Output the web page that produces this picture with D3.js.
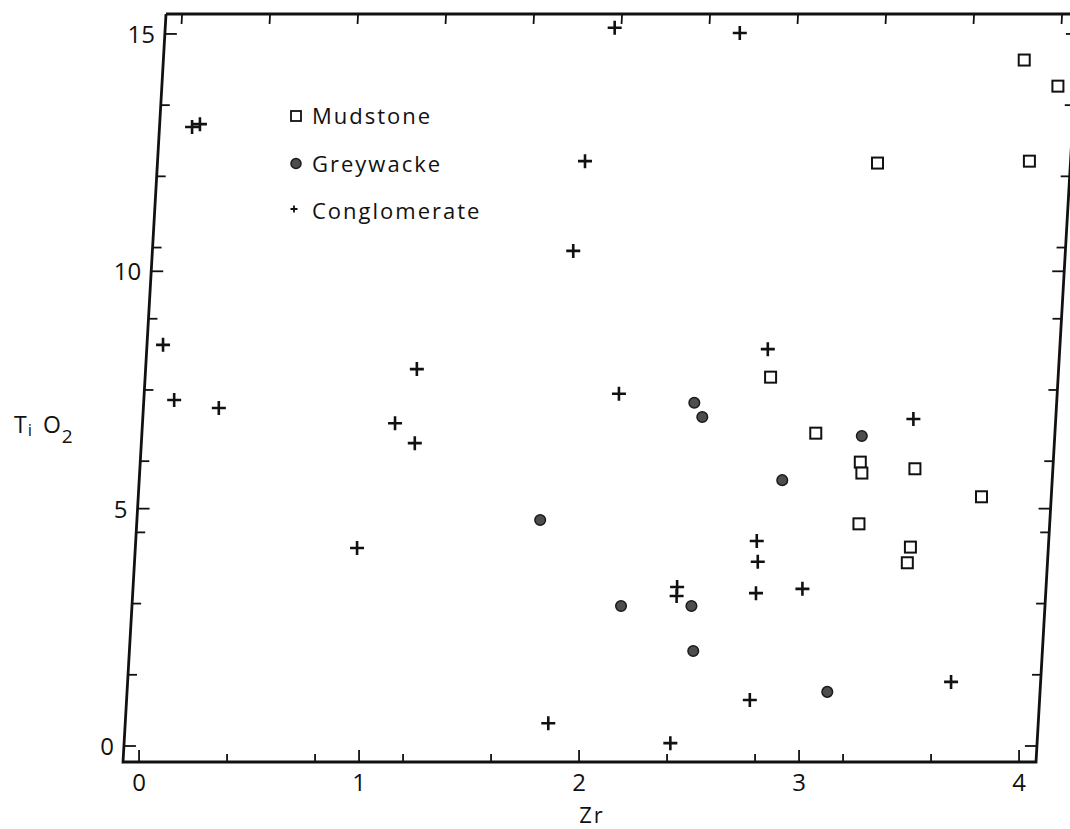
<!DOCTYPE html>
<html>
<head>
<meta charset="utf-8">
<script src="https://cdn.jsdelivr.net/npm/d3@7"></script>
<style>
  html, body { margin: 0; padding: 0; background: #fff; }
  svg { display: block; }
  text { font-family: "Open Sans", "DejaVu Sans", sans-serif; fill: #111; }
</style>
</head>
<body>
<svg id="chart" width="1070" height="829"></svg>
<script>
// Zr vs TiO2 by rock type
const mudstoneZr  = [3.20, 3.84, 4.00, 3.89, 2.77, 2.99, 3.20, 3.21, 3.45, 3.21, 3.45, 3.44, 3.76];
const mudstoneTi  = [12.28, 14.45, 13.90, 12.32, 7.77, 6.59, 5.98, 5.75, 5.84, 4.68, 4.19, 3.86, 5.25];

const greywackeZr = [1.76, 2.15, 2.47, 2.49, 2.43, 2.47, 2.85, 3.20, 3.11];
const greywackeTi = [4.76, 2.95, 2.95, 2.00, 7.23, 6.93, 5.60, 6.53, 1.14];

const conglomerateZr = [0.075, 0.11, 0.00, 0.065, 0.27, 0.935, 1.075, 1.16, 1.17, 1.85, 1.84, 1.87, 1.97,
                        2.085, 2.54, 2.41, 2.40, 2.40, 2.76, 2.76, 2.76, 2.75, 2.75, 2.97, 3.43, 3.67];
const conglomerateTi = [13.04, 13.10, 8.45, 7.29, 7.12, 4.17, 6.80, 7.94, 6.38, 0.48, 10.43, 12.32, 15.13,
                        7.42, 15.02, 0.06, 3.35, 3.16, 0.97, 3.22, 3.88, 4.32, 8.36, 3.31, 6.89, 1.35];

const xLabelTicks = [0, 1, 2, 3, 4];
const xMinorBottom = [0.4, 0.8, 1.2, 1.6, 2.4, 2.8, 3.2, 3.6];
const xTopTicks = [0, 0.4, 0.8, 1.2, 1.6, 2.0, 2.4, 2.8, 3.2, 3.6, 4.0];
const yLabelTicks = [0, 5, 10, 15];
const yMinorTicks = [1.5, 3, 4.5, 6, 7.5, 9, 10.5, 12, 13.5];

const legendItems = ["Mudstone", "Greywacke", "Conglomerate"];

const svg = d3.select("#chart");

// Frame: a slightly sheared box (the left/right edges lean right going up)
const x = d3.scaleLinear().domain([-0.073, 4.077]).range([123, 1036]);
const y = d3.scaleLinear().domain([-0.337, 15.42]).range([762, 14]);
const shear = 0.0575;
const baseY = y(-0.337);
const px = (xv, yv) => x(xv) + (baseY - y(yv)) * shear;
const py = (yv) => y(yv);

const [x0, x1] = x.domain();
const [y0, y1] = y.domain();

// frame outline
svg.append("path")
  .attr("d", d3.line()([[px(x0, y1), py(y1)], [px(x1, y1), py(y1)], [px(x1, y0), py(y0)], [px(x0, y0), py(y0)], [px(x0, y1), py(y1)]]))
  .attr("fill", "none").attr("stroke", "#111").attr("stroke-width", 2.8)
  .attr("stroke-linejoin", "miter");

const tickG = svg.append("g").attr("stroke", "#111").attr("stroke-width", 1.8);

// bottom ticks (inward)
xLabelTicks.forEach(v => {
  tickG.append("line").attr("x1", px(v, y0)).attr("y1", py(y0)).attr("x2", px(v, y0)).attr("y2", py(y0) - 12);
});
xMinorBottom.forEach(v => {
  tickG.append("line").attr("x1", px(v, y0)).attr("y1", py(y0)).attr("x2", px(v, y0)).attr("y2", py(y0) - 8);
});
// top ticks
xTopTicks.forEach(v => {
  tickG.append("line").attr("x1", px(v, y1)).attr("y1", py(y1)).attr("x2", px(v, y1) - 0.5).attr("y2", py(y1) + 10);
});
// left and right ticks
yLabelTicks.concat(yMinorTicks).forEach(v => {
  const len = yLabelTicks.includes(v) ? 12 : 9;
  tickG.append("line").attr("x1", px(x0, v)).attr("y1", py(v)).attr("x2", px(x0, v) + len).attr("y2", py(v));
  tickG.append("line").attr("x1", px(x1, v)).attr("y1", py(v)).attr("x2", px(x1, v) - len).attr("y2", py(v));
});

// tick labels
svg.append("g").selectAll("text").data(xLabelTicks).join("text")
  .attr("x", d => px(d, y0)).attr("y", py(y0) + 29)
  .attr("text-anchor", "middle").attr("font-size", 24).text(d => d);

svg.append("g").selectAll("text").data(yLabelTicks).join("text")
  .attr("x", d => px(x0, d) - 10).attr("y", d => py(d) + 9)
  .attr("text-anchor", "end").attr("font-size", 24).text(d => d);

// axis titles
svg.append("text").attr("x", 592).attr("y", 823).attr("text-anchor", "middle")
  .attr("font-size", 22).attr("letter-spacing", 2).text("Zr");

const yt = svg.append("text").attr("x", 14).attr("y", 433).attr("font-size", 23);
yt.append("tspan").text("T");
yt.append("tspan").attr("font-size", 17).attr("dy", 3).attr("dx", 1).text("i");
yt.append("tspan").attr("dy", -3).attr("dx", 11).text("O");
yt.append("tspan").attr("font-size", 19).attr("dy", 10).attr("dx", 1).text("2");

// markers
const plusPath = s => `M${-s},0H${s}M0,${-s}V${s}`;

const pts = svg.append("g");
pts.selectAll(".mud").data(d3.zip(mudstoneZr, mudstoneTi)).join("rect")
  .attr("class", "mud")
  .attr("x", d => px(d[0], d[1]) - 5.5).attr("y", d => py(d[1]) - 5.5)
  .attr("width", 11).attr("height", 11)
  .attr("fill", "#fff").attr("stroke", "#111").attr("stroke-width", 2);

pts.selectAll(".grey").data(d3.zip(greywackeZr, greywackeTi)).join("circle")
  .attr("class", "grey")
  .attr("cx", d => px(d[0], d[1])).attr("cy", d => py(d[1])).attr("r", 5.3)
  .attr("fill", "#4d4d4d").attr("stroke", "#1a1a1a").attr("stroke-width", 1.5);

pts.selectAll(".cong").data(d3.zip(conglomerateZr, conglomerateTi)).join("path")
  .attr("class", "cong")
  .attr("transform", d => `translate(${px(d[0], d[1])},${py(d[1])})`)
  .attr("d", plusPath(7))
  .attr("stroke", "#111").attr("stroke-width", 2.6).attr("fill", "none");

// legend
const lg = svg.append("g").attr("transform", "translate(296,116)");
const rowGap = 47.5;
lg.append("rect").attr("x", -5).attr("y", -5).attr("width", 10).attr("height", 10)
  .attr("fill", "#fff").attr("stroke", "#111").attr("stroke-width", 1.8);
lg.append("circle").attr("cx", 0).attr("cy", rowGap).attr("r", 5)
  .attr("fill", "#4d4d4d").attr("stroke", "#1a1a1a").attr("stroke-width", 1.5);
lg.append("path").attr("transform", `translate(-2,${rowGap * 2 - 2})`).attr("d", plusPath(3.5))
  .attr("stroke", "#111").attr("stroke-width", 1.8);
lg.selectAll("text.item").data(legendItems).join("text")
  .attr("class", "item")
  .attr("x", 16).attr("y", (d, i) => i * rowGap + 8)
  .attr("font-size", 22).attr("letter-spacing", 2).text(d => d);
</script>
</body>
</html>
